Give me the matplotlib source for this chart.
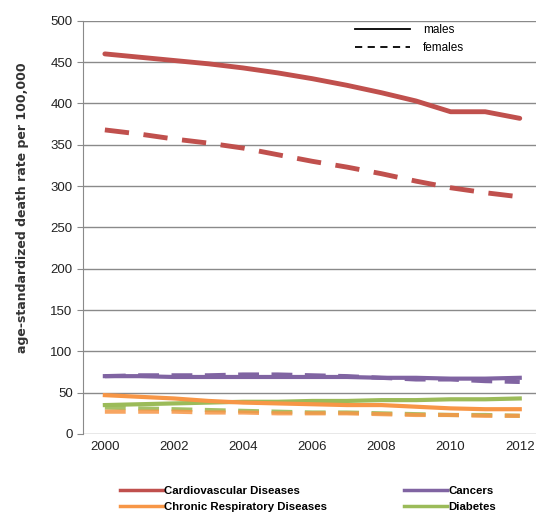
import matplotlib
matplotlib.use("Agg")
import matplotlib.pyplot as plt
from matplotlib.lines import Line2D

plt.rcParams['font.family'] = ['Liberation Sans', 'DejaVu Sans']

years = [2000, 2001, 2002, 2003, 2004, 2005, 2006, 2007, 2008, 2009, 2010, 2011, 2012]

cardio_m = [460, 456, 452, 448, 443, 437, 430, 422, 413, 403, 390, 390, 382]
cardio_f = [368, 363, 357, 352, 346, 338, 330, 323, 315, 306, 298, 292, 287]
cancer_m = [70, 70, 69, 69, 69, 69, 69, 69, 68, 68, 67, 67, 68]
cancer_f = [70, 71, 71, 71, 72, 72, 71, 70, 68, 66, 66, 64, 63]
resp_m = [47, 45, 43, 40, 38, 37, 36, 35, 35, 33, 31, 30, 30]
resp_f = [27, 27, 27, 26, 26, 25, 25, 25, 24, 23, 23, 22, 22]
diab_m = [35, 36, 37, 38, 39, 39, 40, 40, 41, 41, 42, 42, 43]
diab_f = [32, 31, 30, 29, 28, 27, 26, 26, 25, 24, 23, 23, 22]

series_names = ['Cardiovascular Diseases', 'Chronic Respiratory Diseases', 'Cancers', 'Diabetes']
colors = {'Cardiovascular Diseases': '#C0504D', 'Cancers': '#8064A2',
          'Chronic Respiratory Diseases': '#F79646', 'Diabetes': '#9BBB59'}

fig = plt.figure(figsize=(5.36, 5.21), dpi=100)
ax = fig.add_axes([0.155, 0.167, 0.845, 0.793])

ax.plot(years, cardio_m, color=colors['Cardiovascular Diseases'], lw=3.5, solid_capstyle='round')
ax.plot(years, cardio_f, color=colors['Cardiovascular Diseases'], lw=3.5, dashes=(5, 3))
ax.plot(years, cancer_m, color=colors['Cancers'], lw=3)
ax.plot(years, cancer_f, color=colors['Cancers'], lw=3, dashes=(5, 3))
ax.plot(years, diab_m, color=colors['Diabetes'], lw=3)
ax.plot(years, resp_m, color=colors['Chronic Respiratory Diseases'], lw=3)
ax.plot(years, diab_f, color=colors['Diabetes'], lw=3, dashes=(5, 3), alpha=0.9)
ax.plot(years, resp_f, color=colors['Chronic Respiratory Diseases'], lw=3, dashes=(5, 3), alpha=0.85)

ax.set_xlim(1999.37, 2012.47)
ax.set_ylim(0, 500)
ax.set_xticks(range(2000, 2013, 2))
ax.set_yticks(range(0, 501, 50))
ax.yaxis.grid(True, color='#8a8a8a', lw=1)
ax.set_axisbelow(True)
for s in ['top', 'right', 'bottom']:
    ax.spines[s].set_visible(False)
ax.spines['left'].set_color('#8a8a8a')
ax.tick_params(axis='y', length=4, color='#8a8a8a', labelsize=9.5, colors='#222222')
ax.tick_params(axis='x', length=0, labelsize=9.5, colors='#222222', pad=5)
ax.set_ylabel('age-standardized death rate per 100,000', fontsize=9, fontweight='bold',
              color='#333333', labelpad=7, family='DejaVu Sans')
ax.yaxis.set_label_coords(-0.12, 0.547)

sex_handles = [Line2D([], [], color='black', lw=1.3),
               Line2D([], [], color='black', lw=1.3, dashes=(4, 3))]
ax.legend(sex_handles, ['males', 'females'], loc='upper left', frameon=False,
          fontsize=8.5, handlelength=4.7, handletextpad=1.1, borderpad=0, borderaxespad=0,
          bbox_to_anchor=(0.60, 0.992), labelspacing=0.5)

handles = [Line2D([], [], color=colors[n], lw=2.5) for n in series_names]
fig.legend(handles, series_names, loc='upper left', bbox_to_anchor=(0.224, 0.068), ncol=2,
           frameon=False, prop={'weight': 'bold', 'size': 8.2},
           handlelength=3.8, handletextpad=0.1, columnspacing=6.7, labelspacing=0.6,
           borderpad=0, borderaxespad=0)

fig.savefig('out.png', dpi=100)
